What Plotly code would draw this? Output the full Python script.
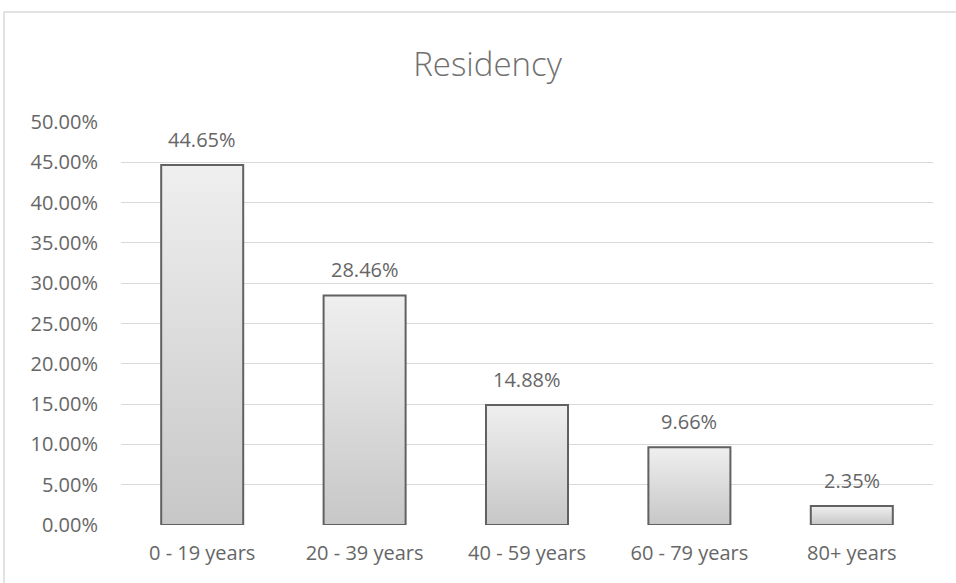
import plotly.graph_objects as go

# Share of residents by age group
age_groups = ["0 - 19 years", "20 - 39 years", "40 - 59 years", "60 - 79 years", "80+ years"]
share_pct = [44.65, 28.46, 14.88, 9.66, 2.35]
y_ticks = [0, 5, 10, 15, 20, 25, 30, 35, 40, 45, 50]

TEXT = "#666666"
FONT = "Open Sans"
HALF_W = 0.2525  # half bar width in category units

fig = go.Figure()

# Each bar is a filled polygon so it can carry a vertical gradient
for i, (name, v) in enumerate(zip(age_groups, share_pct)):
    fig.add_trace(go.Scatter(
        x=[i - HALF_W, i - HALF_W, i + HALF_W, i + HALF_W, i - HALF_W],
        y=[0, v, v, 0, 0],
        mode="lines",
        fill="toself",
        fillgradient=dict(type="vertical",
                          colorscale=[[0, "#c7c7c7"], [1, "#efefef"]]),
        line=dict(color="#616161", width=2),
        name=name,
        hovertemplate=f"{name}: {v:.2f}%<extra></extra>",
        showlegend=False,
    ))
    fig.add_annotation(
        x=i, y=v, text=f"{v:.2f}%", showarrow=False,
        yshift=26, font=dict(family=FONT, size=20, color=TEXT),
    )

# Outer chart frame
fig.add_shape(type="rect", xref="paper", yref="paper",
              x0=-0.1441, x1=1.2, y0=-0.3, y1=1.273,
              line=dict(color="#d9d9d9", width=1.5), layer="below")

fig.update_layout(
    width=956, height=583,
    margin=dict(l=121, r=23, t=122, b=58),
    paper_bgcolor="white", plot_bgcolor="white",
    title=dict(text="Residency", x=0.51, xref="container", xanchor="center",
               y=1 - 64 / 583, yref="container", yanchor="middle",
               font=dict(family=FONT, size=33, color="#707070", weight=300)),
    font=dict(family=FONT, color=TEXT),
    xaxis=dict(range=[-0.5, 4.5], tickvals=list(range(len(age_groups))),
               ticktext=age_groups, showgrid=False, zeroline=False,
               showline=False, ticks="", tickfont=dict(size=20, color=TEXT),
               ticklabelstandoff=14, fixedrange=True),
    yaxis=dict(range=[0, 50], tickvals=y_ticks,
               ticktext=[f"{t:.2f}%" for t in y_ticks],
               showgrid=True, gridcolor="#d9d9d9", gridwidth=1,
               zeroline=False, showline=False, ticks="",
               tickfont=dict(size=20, color=TEXT), ticklabelstandoff=22,
               fixedrange=True),
)

fig.write_html("out.html")
